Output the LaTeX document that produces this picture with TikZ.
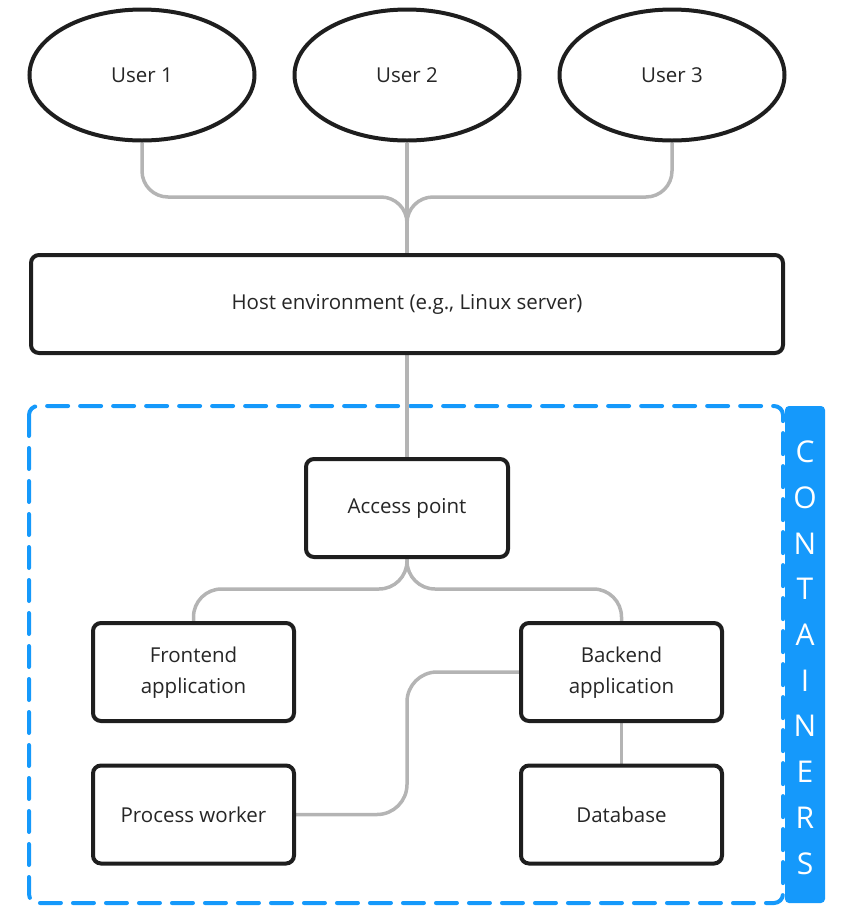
\documentclass[tikz,border=0pt]{standalone}
\usepackage{fontspec}
\setmainfont{Open Sans}
\usetikzlibrary{shapes.geometric,backgrounds}
\definecolor{ink}{HTML}{1E1E1E}
\definecolor{txt}{HTML}{262626}
\definecolor{wiregray}{HTML}{B4B4B4}
\definecolor{cblue}{HTML}{1599FB}
\newcommand{\twoline}[2]{\raisebox{-3pt}{\begin{tabular}{@{}c@{}}#1\\#2\end{tabular}}}
\begin{document}
\begin{tikzpicture}[x=1pt,y=-1pt,
  every node/.style={font=\fontsize{20.5}{31}\selectfont, text=txt},
  user/.style={ellipse, draw=ink, line width=4pt, fill=white, minimum width=225pt, minimum height=131pt, inner sep=0pt},
  box/.style={rectangle, rounded corners=8pt, draw=ink, line width=4pt, fill=white, minimum width=201pt, minimum height=98pt, inner sep=0pt, align=center},
  wire/.style={draw=wiregray, line width=3.5pt},
  tag/.style={text=white, font=\fontsize{30}{30}\selectfont, inner sep=0pt}]
\useasboundingbox (0,0) rectangle (841,906);

% nodes
\node[user] (u1) at (142,75) {\raisebox{-1pt}{User 1}};
\node[user] (u2) at (407,75) {\raisebox{-1pt}{User 2}};
\node[user] (u3) at (672,75) {\raisebox{-1pt}{User 3}};
\node[box, minimum width=752pt] (host) at (407,304) {\raisebox{-2pt}{Host environment (e.g., Linux server)}};
\node[box, minimum width=202pt] (ap) at (407,508) {\raisebox{-2pt}{Access point}};
\node[box] (fe) at (193.5,672) {\twoline{Frontend}{application}};
\node[box] (pw) at (193.5,814.5) {\raisebox{-2pt}{Process worker}};
\node[box] (be) at (621.5,672) {\twoline{Backend}{application}};
\node[box] (db) at (621.5,814.5) {\raisebox{-2pt}{Database}};

\begin{pgfonlayer}{background}
  % container frame
  \draw[cblue, line width=4pt, line cap=round, dash pattern=on 21pt off 12pt, rounded corners=9pt]
    (29,406) rectangle (783,903);
  % connectors
  \draw[wire, rounded corners=26pt] (u1.south) -- (142,197) -- (407,197) -- (host.north);
  \draw[wire, rounded corners=26pt] (u3.south) -- (672,197) -- (407,197) -- (host.north);
  \draw[wire] (u2.south) -- (host.north);
  \draw[wire] (host.south) -- (ap.north);
  \draw[wire, rounded corners=28pt] (ap.south) -- (407,589) -- (193.5,589) -- (fe.north);
  \draw[wire, rounded corners=28pt] (ap.south) -- (407,589) -- (621.5,589) -- (be.north);
  \draw[wire, rounded corners=30pt] (pw.east) -- (407,814.5) -- (407,672) -- (be.west);
  \draw[wire] (be.south) -- (db.north);
\end{pgfonlayer}

% containers label
\fill[cblue, rounded corners=4pt] (785,406) rectangle (825,903);
\foreach \l [count=\i from 0] in {C,O,N,T,A,I,N,E,R,S}
  \node[tag] (c\i) at (805,452+45.7*\i) {\l};
\end{tikzpicture}
\end{document}
